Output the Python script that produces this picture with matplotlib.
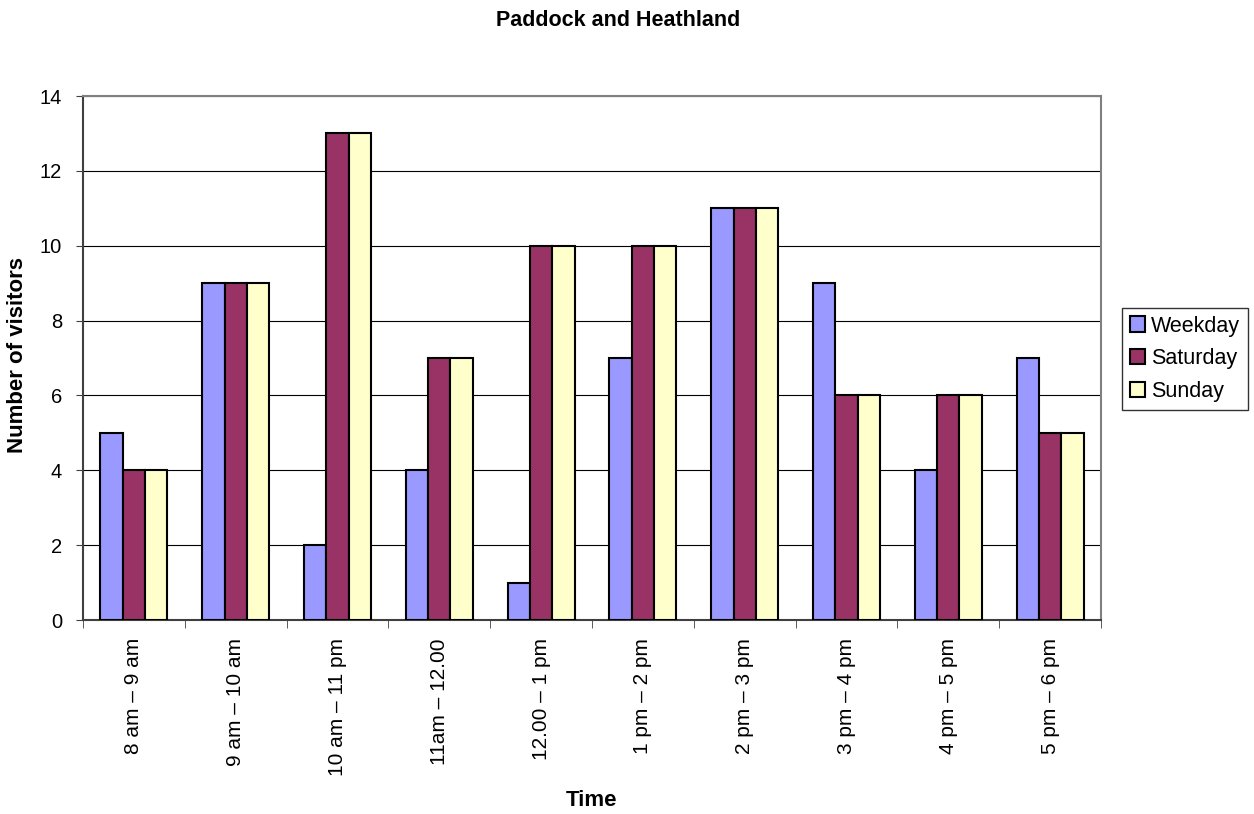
import numpy as np
import matplotlib.pyplot as plt

times = ['8 am – 9 am', '9 am – 10 am', '10 am – 11 pm', '11am – 12.00', '12.00 – 1 pm',
         '1 pm – 2 pm', '2 pm – 3 pm', '3 pm – 4 pm', '4 pm – 5 pm', '5 pm – 6 pm']
weekday = [5, 9, 2, 4, 1, 7, 11, 9, 4, 7]
saturday = [4, 9, 13, 7, 10, 10, 11, 6, 6, 5]
sunday = [4, 9, 13, 7, 10, 10, 11, 6, 6, 5]

plt.rcParams['font.family'] = ['Liberation Sans', 'DejaVu Sans']

W, H = 1254, 814
fig = plt.figure(figsize=(W / 100, H / 100), dpi=100)
ax = fig.add_axes([83 / W, 1 - 620 / H, (1101 - 83) / W, (620 - 96) / H])

x = np.arange(len(times))
w = 0.22
ax.bar(x - w, weekday, w, color='#9999FF', edgecolor='black', linewidth=1.5, label='Weekday', zorder=3)
ax.bar(x, saturday, w, color='#993366', edgecolor='black', linewidth=1.5, label='Saturday', zorder=3)
ax.bar(x + w, sunday, w, color='#FFFFCC', edgecolor='black', linewidth=1.5, label='Sunday', zorder=3)

ax.set_xlim(-0.5, len(times) - 0.5)
ax.set_ylim(0, 14)
ax.set_yticks(range(0, 15, 2))
ax.yaxis.grid(True, color='black', linewidth=0.8, zorder=0)
ax.set_xticks(x)
ax.set_xticklabels(times, rotation=90, fontsize=15)
ax.tick_params(axis='x', length=0, pad=13)
ax.set_xticks(np.arange(-0.5, len(times), 1), minor=True)
ax.tick_params(axis='x', which='minor', length=6, color='#404040')
ax.tick_params(axis='y', labelsize=14.5, length=5, pad=10, color='#404040')

for s in ['top', 'right']:
    ax.spines[s].set_color('#808080')
    ax.spines[s].set_linewidth(1.5)
for s in ['left', 'bottom']:
    ax.spines[s].set_color('#404040')
    ax.spines[s].set_linewidth(1.5)

fig.text(18 / W, 1 - 355 / H, 'Number of visitors', fontsize=16, fontweight='bold',
         rotation=90, ha='center', va='center')
fig.text(592 / W, 1 - 801 / H, 'Time', fontsize=16, fontweight='bold', ha='center', va='center')
fig.text(618 / W, 1 - 20 / H, 'Paddock and Heathland', fontsize=15.5, fontweight='bold',
         ha='center', va='center')

leg = ax.legend(loc='upper left', bbox_to_anchor=(1122 / W, 1 - 308 / H),
                bbox_transform=fig.transFigure, fontsize=15.5, frameon=True,
                fancybox=False, edgecolor='black', handlelength=0.7, handleheight=0.7,
                handletextpad=0.3, borderpad=0.35, borderaxespad=0, labelspacing=0.55)
leg.get_frame().set_linewidth(1.0)

fig.savefig('out.png', dpi=100)
